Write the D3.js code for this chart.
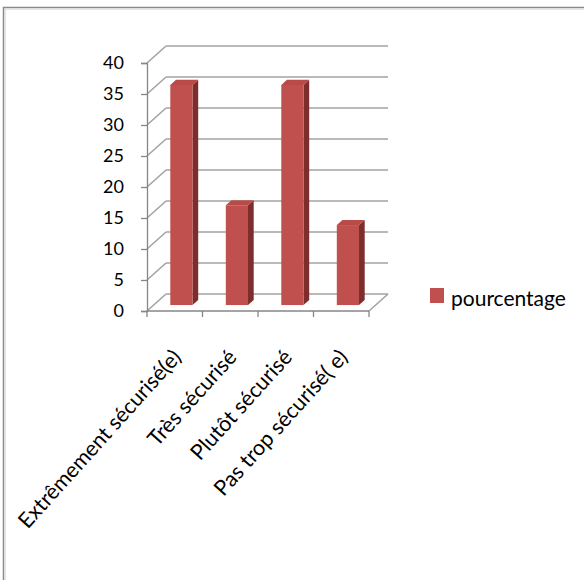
<!DOCTYPE html>
<html>
<head>
<meta charset="utf-8">
<script src="https://cdn.jsdelivr.net/npm/d3@7"></script>
<style>
  html, body { margin: 0; padding: 0; background: #fff; }
  svg { display: block; }
  text { font-family: Lato, "Open Sans", sans-serif; fill: #000; }
</style>
</head>
<body>
<svg id="chart" width="584" height="580"></svg>
<script>
// Survey answers: how secure respondents feel (percent)
const categories = ["Extrêmement sécurisé(e)", "Très sécurisé", "Plutôt sécurisé", "Pas trop sécurisé( e)"];
const values = [35.5, 16.1, 35.5, 12.9];
const yTicks = [0, 5, 10, 15, 20, 25, 30, 35, 40];
const seriesName = "pourcentage";

const svg = d3.select("#chart");

// Outer frame of the chart area
svg.append("path")
  .attr("d", "M3.5,584 V7.5 H590")
  .attr("fill", "none")
  .attr("stroke", "#8a8a8a")
  .attr("stroke-width", 1.5);
svg.append("path")
  .attr("d", "M5.2,584 V9.2 H590")
  .attr("fill", "none")
  .attr("stroke", "#d8d8d8")
  .attr("stroke-width", 1);

// Front plane scales plus the depth offset of the 3D box
const x = d3.scaleBand().domain(categories).range([147, 369]).paddingInner(0.6).paddingOuter(0.3);
const y = d3.scaleLinear().domain([0, 40]).range([311, 63]);
const DX = 19, DY = -17;
const d0 = 0.35, d1 = 0.65; // bar depth span inside the box

const [xl, xr] = x.range();
const grid = svg.append("g").attr("fill", "none").attr("stroke", "#a3a3a3").attr("stroke-width", 1.6);

// Back wall lines and side wall diagonals at each tick
yTicks.forEach(t => {
  grid.append("line")
    .attr("x1", xl + DX).attr("x2", xr + DX)
    .attr("y1", y(t) + DY).attr("y2", y(t) + DY);
  grid.append("line")
    .attr("x1", xl).attr("y1", y(t))
    .attr("x2", xl + DX).attr("y2", y(t) + DY);
});
// Floor right edge
grid.append("line")
  .attr("x1", xr).attr("y1", y(0))
  .attr("x2", xr + DX).attr("y2", y(0) + DY);

// Bars
const colFront = "#c0504d", colSide = "#7d2e2c", colTop = "#b84a47";
const bars = svg.append("g");
categories.forEach((c, i) => {
  const v = values[i];
  const xa = x(c), xb = x(c) + x.bandwidth();
  const fx = DX * d0, fy = DY * d0, bx = DX * d1, by = DY * d1;
  const top = y(v), bot = y(0);
  // side face
  bars.append("polygon")
    .attr("points", [[xb + fx, top + fy], [xb + bx, top + by], [xb + bx, bot + by], [xb + fx, bot + fy]].join(" "))
    .attr("fill", colSide);
  // top face
  bars.append("polygon")
    .attr("points", [[xa + fx, top + fy], [xb + fx, top + fy], [xb + bx, top + by], [xa + bx, top + by]].join(" "))
    .attr("fill", colTop);
  // front face
  bars.append("rect")
    .attr("x", xa + fx).attr("y", top + fy)
    .attr("width", xb - xa).attr("height", bot - top)
    .attr("fill", colFront);
});

// Y axis
const yAxis = svg.append("g").attr("transform", `translate(${xl},0)`)
  .call(d3.axisLeft(y).tickValues(yTicks).tickSize(6).tickPadding(17));
yAxis.select(".domain").attr("stroke", "#868686").attr("stroke-width", 1.3);
yAxis.selectAll(".tick line").attr("stroke", "#868686").attr("stroke-width", 1.3);
yAxis.selectAll(".tick text").attr("font-size", 18).attr("font-family", "Lato, sans-serif").attr("fill", "#000");

// X axis (floor front edge) with boundary ticks
const xAxis = svg.append("g");
xAxis.append("line")
  .attr("x1", xl).attr("x2", xr).attr("y1", y(0)).attr("y2", y(0))
  .attr("stroke", "#868686").attr("stroke-width", 1.3);
const bounds = [xl].concat(categories.map(c => x(c) - x.step() * x.paddingInner() / 2 + x.step()));
bounds.forEach(b => {
  xAxis.append("line")
    .attr("x1", b).attr("x2", b).attr("y1", y(0)).attr("y2", y(0) + 6)
    .attr("stroke", "#868686").attr("stroke-width", 1.3);
});

// Rotated category labels
categories.forEach(c => {
  const cx = x(c) + x.bandwidth() / 2 + 2;
  svg.append("text")
    .attr("transform", `translate(${cx},${y(0) + 42}) rotate(-48)`)
    .attr("text-anchor", "end")
    .attr("dy", "0.35em")
    .attr("font-size", 21.5)
    .text(c);
});

// Legend
const legend = svg.append("g").attr("transform", "translate(430,288)");
legend.append("rect").attr("width", 14).attr("height", 15).attr("fill", colFront);
legend.append("text").attr("x", 21).attr("y", 18).attr("font-size", 21).text(seriesName);
</script>
</body>
</html>
